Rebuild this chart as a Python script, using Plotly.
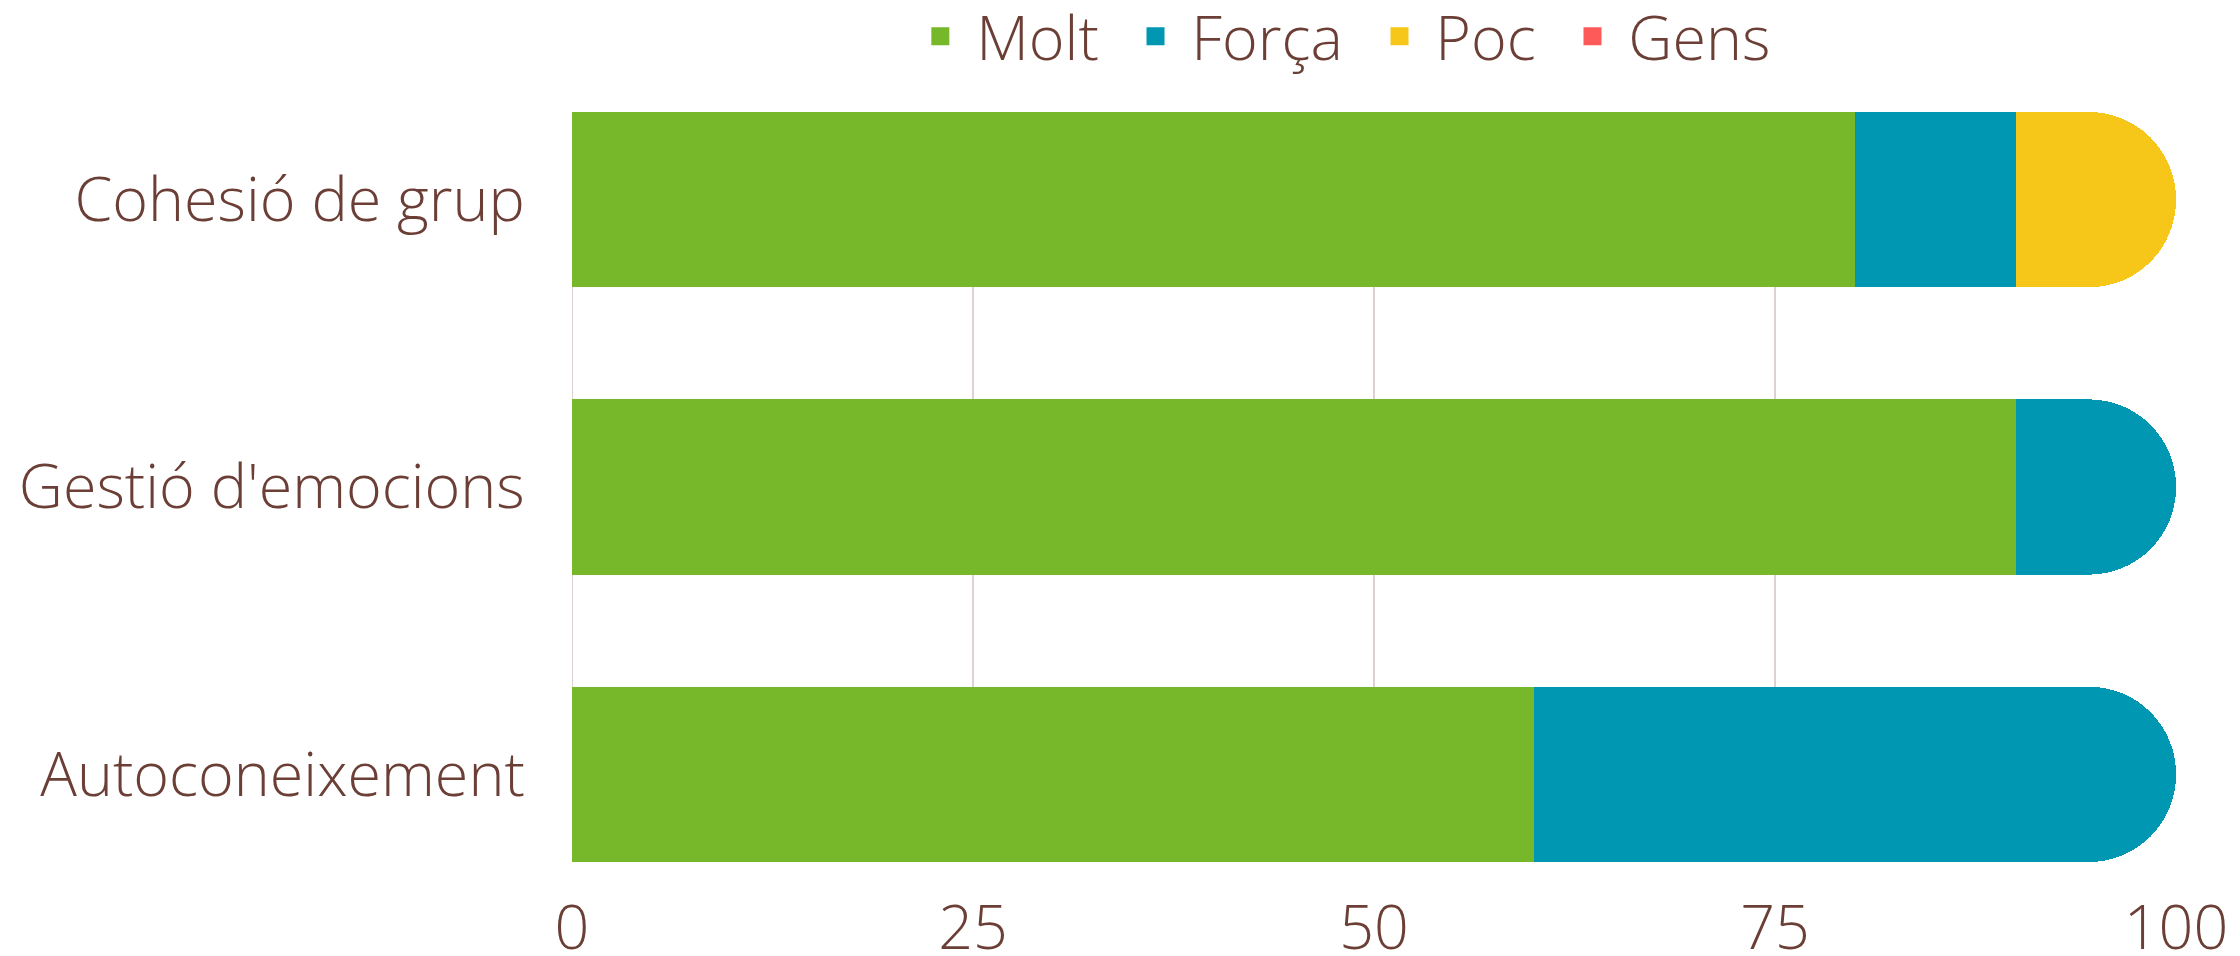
import plotly.graph_objects as go

categories = ["Autoconeixement", "Gestió d'emocions", "Cohesió de grup"]
series_names = ["Molt", "Força", "Poc", "Gens"]
molt = [60, 90, 80]
forca = [40, 10, 10]
poc = [0, 0, 10]
gens = [0, 0, 0]
colors = ["#76b82a", "#0097b2", "#f6c619", "#ff5a5a"]
tick_vals = [0, 25, 50, 75, 100]

TEXT = "#6b3e36"
FONT = dict(family="Open Sans", size=61, color=TEXT, weight=300)
NB = "\u00a0"

fig = go.Figure()
for name, vals, col in zip(series_names, [molt, forca, poc, gens], colors):
    fig.add_trace(go.Bar(
        y=categories, x=vals, name=name, orientation="h",
        marker=dict(color=col, line=dict(width=0)),
        showlegend=False,
    ))
for i, (name, col) in enumerate(zip(series_names, colors)):
    label = NB + name + ("" if i == len(series_names) - 1 else NB * 2)
    fig.add_trace(go.Scatter(
        x=[None], y=[None], mode="markers", name=label,
        marker=dict(symbol="square", size=16, color=col, line=dict(color=col, width=2)),
        showlegend=True,
    ))

fig.update_layout(
    width=2240, height=956,
    barmode="stack",
    bargap=0.39,
    barcornerradius="50%",
    paper_bgcolor="white", plot_bgcolor="white",
    font=FONT,
    margin=dict(l=563.5, r=71.5, t=104, b=102, autoexpand=False),
    legend=dict(orientation="h", x=0.484, xanchor="center", y=0.970, yanchor="middle",
                yref="container", font=FONT, itemsizing="trace", traceorder="normal"),
    xaxis=dict(range=[0, 100], tickvals=tick_vals, showgrid=True, automargin=False,
               gridcolor="#dcd3d1", gridwidth=2, zeroline=False, showline=False,
               ticks="outside", ticklen=13, tickcolor="rgba(0,0,0,0)", fixedrange=True),
    yaxis=dict(range=[-0.305, 2.305], showgrid=False, zeroline=False, showline=False,
               automargin=False,
               ticks="outside", ticklen=34, tickcolor="rgba(0,0,0,0)",
               categoryorder="array", categoryarray=categories),
    shapes=[dict(type="line", xref="x", yref="paper", x0=0, x1=0, y0=0, y1=1,
                 line=dict(color="#dcd3d1", width=2), layer="below")],
)

fig.write_html("out.html")
